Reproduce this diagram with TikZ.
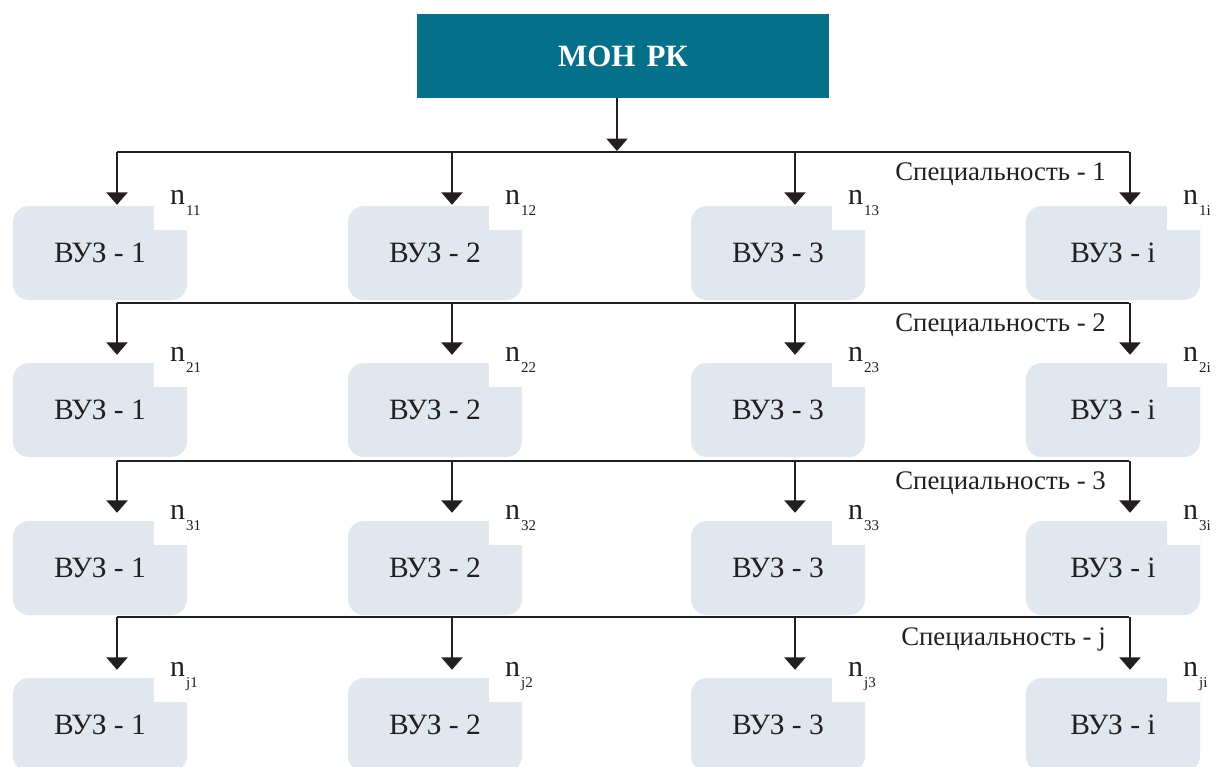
\documentclass[tikz,border=0pt]{standalone}
\usepackage{fontspec}
\setmainfont{Liberation Serif}
\usetikzlibrary{arrows.meta,calc}
\definecolor{mohteal}{HTML}{05708A}
\definecolor{boxfill}{HTML}{E0E7EE}
\definecolor{ink}{HTML}{231F20}
\newcommand\nlabel[1]{n\kern1bp\raisebox{-11bp}{\fontsize{15bp}{15bp}\selectfont #1}}
\tikzset{
  top/.style={fill=mohteal, minimum width=412bp, minimum height=84bp, inner sep=0pt,
    text=white, font=\fontsize{31bp}{36bp}\selectfont\bfseries},
  vuz/.style={fill=boxfill, rounded corners=16bp, minimum width=174bp, minimum height=94bp,
    inner sep=0pt, text=ink, font=\fontsize{29.5bp}{32bp}\selectfont,
    path picture={\fill[white, sharp corners] ([xshift=-33bp, yshift=1bp]path picture bounding box.north east)
      rectangle ([xshift=1bp, yshift=-24bp]path picture bounding box.north east);}},
  nlab/.style={anchor=base west, inner sep=0pt, text=ink, font=\fontsize{30bp}{32bp}\selectfont},
  spec/.style={anchor=base east, inner sep=0pt, text=ink, font=\fontsize{26.8bp}{32bp}\selectfont},
  bus/.style={draw=ink, line width=2.7bp},
  arr/.style={draw=ink, line width=2.7bp, -{Triangle[width=21bp,length=12.5bp]}},
}
\begin{document}
\begin{tikzpicture}[x=1bp,y=-1bp]
\clip (0,0) rectangle (1218,767);
\fill[white] (0,0) rectangle (1218,767);
\node[top] (moh) at (623,56) {МОН\hspace{11bp}РК};
\coordinate (hub) at (617,152);
\draw[arr] (moh.south -| hub) -- ([yshift=1bp]hub);
% rows
\foreach \r/\ly/\cy/\gap/\s in {1/152/253/1/1, 2/303/410/8/2, 3/461/568/8/3, 4/617/725/8/j}{
  \coordinate (L\r) at (117,\ly);
  \coordinate (R\r) at (1129,\ly);
  \draw[bus] (L\r) -- (R\r);
  \node[spec] (s\r) at (1106,\ly+28) {Специальность - \s};
  \foreach \c/\cx/\t/\k in {1/100/1/1, 2/435/2/2, 3/778/3/3, 4/1113/i/i}{
    \node[vuz] (b\r\c) at (\cx,\cy) {ВУЗ - \t};
    \coordinate (d\r\c) at ($(b\r\c.north)+(17,0)$);
    \draw[arr] (d\r\c |- L\r) -- ($(d\r\c)+(0,-\gap)$);
    \node[nlab] (n\r\c) at ($(b\r\c.north)+(70,-1)$) {\nlabel{\s\k}};
  }
}
\end{tikzpicture}
\end{document}
